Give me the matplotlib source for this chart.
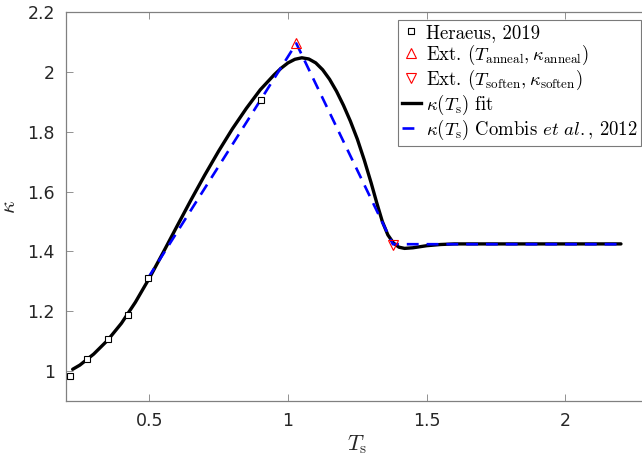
import matplotlib
matplotlib.use("Agg")
import matplotlib.pyplot as plt
from matplotlib.lines import Line2D

# ---------------- data ----------------
heraeus_T = [0.216, 0.276, 0.350, 0.422, 0.495, 0.902]
heraeus_k = [0.983, 1.041, 1.106, 1.187, 1.310, 1.907]

anneal_T = [1.030]
anneal_k = [2.095]

soften_T = [1.378]
soften_k = [1.421]

fit_T = [0.224, 0.250, 0.300, 0.350, 0.400, 0.450, 0.500, 0.550, 0.600, 0.650,
         0.700, 0.750, 0.800, 0.850, 0.900, 0.950, 0.975, 1.000, 1.025, 1.050,
         1.075, 1.100, 1.125, 1.150, 1.175, 1.200, 1.225, 1.250, 1.275, 1.300,
         1.320, 1.340, 1.360, 1.380, 1.400, 1.420, 1.450, 1.500, 1.550, 1.600,
         1.800, 2.000, 2.200]
fit_k = [1.006, 1.020, 1.057, 1.103, 1.160, 1.230, 1.310, 1.396, 1.484, 1.571,
         1.655, 1.735, 1.810, 1.878, 1.940, 1.990, 2.012, 2.030, 2.042, 2.047,
         2.043, 2.030, 2.007, 1.975, 1.935, 1.888, 1.835, 1.775, 1.705, 1.628,
         1.562, 1.500, 1.455, 1.428, 1.414, 1.410, 1.412, 1.419, 1.423, 1.425,
         1.425, 1.425, 1.425]

combis_T = [0.495, 1.030, 1.378, 2.200]
combis_k = [1.310, 2.095, 1.424, 1.424]

xticks = [0.5, 1, 1.5, 2]
xtick_labels = ["0.5", "1", "1.5", "2"]
yticks = [1, 1.2, 1.4, 1.6, 1.8, 2, 2.2]
ytick_labels = ["1", "1.2", "1.4", "1.6", "1.8", "2", "2.2"]

# ---------------- figure ----------------
plt.rcParams['mathtext.fontset'] = 'cm'
W, H = 642, 458
fig = plt.figure(figsize=(W / 100, H / 100), dpi=100)
L, R, T, B = 66, 648.7, 12, 401
ax = fig.add_axes([L / W, 1 - B / H, (R - L) / W, (B - T) / H])

ax.plot(fit_T, fit_k, color='black', lw=2.4, solid_capstyle='round',
        solid_joinstyle='round', zorder=3)
ax.plot(combis_T, combis_k, color=(0, 0, 1), lw=1.9, dashes=(4.5, 3.0), zorder=4)
ax.plot(heraeus_T, heraeus_k, ls='none', marker='s', ms=5, mfc='white',
        mec='black', mew=0.8, zorder=5)
ax.plot(anneal_T, anneal_k, ls='none', marker='^', ms=7, mfc='none',
        mec='red', mew=0.8, zorder=5)
ax.plot(soften_T, soften_k, ls='none', marker='v', ms=7, mfc='none',
        mec='red', mew=0.8, zorder=5)

ax.set_xlim(0.2, 2.3)
ax.set_ylim(0.9, 2.2)
ax.set_xticks(xticks)
ax.set_xticklabels(xtick_labels)
ax.set_yticks(yticks)
ax.set_yticklabels(ytick_labels)

spine_col = '0.5'
for s in ax.spines.values():
    s.set_color(spine_col)
    s.set_linewidth(0.9)
ax.tick_params(direction='in', length=5, width=0.6, color=spine_col,
               labelsize=12.5, labelcolor='#262626', top=True, right=True, pad=8)

ax.set_xlabel(r'$T_{\rm s}$', fontsize=16, color='#262626', labelpad=2)
ax.set_ylabel(r'$\kappa$', fontsize=16, color='#262626', labelpad=6)

handles = [
    Line2D([], [], ls='none', marker='s', ms=4.5, mfc='white', mec='black', mew=0.8),
    Line2D([], [], ls='none', marker='^', ms=6.5, mfc='none', mec='red', mew=0.8),
    Line2D([], [], ls='none', marker='v', ms=6.5, mfc='none', mec='red', mew=0.8),
    Line2D([], [], color='black', lw=2.4),
    Line2D([], [], color=(0, 0, 1), lw=1.9, dashes=(4.5, 3.0)),
]
labels = [
    r'Heraeus, 2019',
    r'Ext. $(T_{\rm anneal}, \kappa_{\rm anneal})$',
    r'Ext. $(T_{\rm soften}, \kappa_{\rm soften})$',
    r'$\kappa(T_{\rm s})$ fit',
    r'$\kappa(T_{\rm s})$ Combis $\it{et\ al.}$, 2012',
]
leg = fig.legend(handles, labels, loc='upper left',
                 bbox_to_anchor=(398 / W, 1 - 20 / H),
                 prop={'family': 'cmr10', 'size': 13.5},
                 frameon=True, fancybox=False, borderpad=0.2,
                 handlelength=1.0, handletextpad=0.3, labelspacing=0.05,
                 borderaxespad=0.0)
leg.get_frame().set_edgecolor('0.35')
leg.get_frame().set_linewidth(0.8)

fig.savefig('out.png', dpi=100)
